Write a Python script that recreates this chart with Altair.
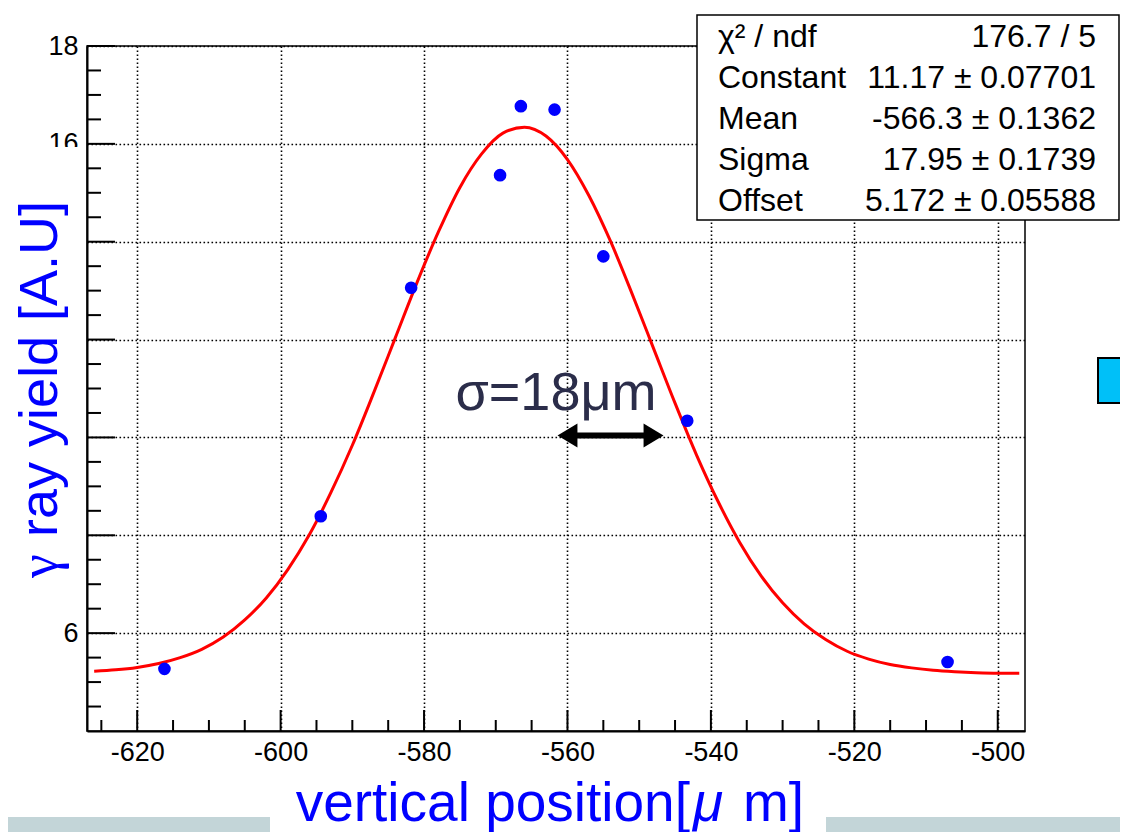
import altair as alt
import pandas as pd

# ---------------- data ----------------
# measured points
pos = [-616.2, -594.4, -581.8, -569.4, -566.5, -561.8, -555.0, -543.3, -507.0]
yld = [5.27, 8.39, 13.06, 15.36, 16.77, 16.70, 13.70, 10.34, 5.41]

# fitted curve (red line)
fit_x = [-626, -623, -620, -617, -614, -611, -608, -605, -602, -599, -596, -593,
         -590, -587, -584, -581, -578, -575, -572, -569, -566, -563, -560, -557,
         -554, -551, -548, -545, -542, -539, -536, -533, -530, -527, -524, -521,
         -518, -515, -512, -509, -506, -503, -500, -497]
fit_y = [5.22, 5.25, 5.30, 5.38, 5.50, 5.67, 5.92, 6.27, 6.72, 7.30, 8.01, 8.87,
         9.84, 10.92, 12.04, 13.16, 14.20, 15.11, 15.79, 16.22, 16.34, 16.16, 15.68, 14.94,
         14.01, 12.94, 11.82, 10.70, 9.64, 8.69, 7.86, 7.17, 6.62, 6.19, 5.87, 5.63,
         5.47, 5.36, 5.29, 5.24, 5.21, 5.19, 5.18, 5.18]

# axis ticks
x_major = [-620, -600, -580, -560, -540, -520, -500]
x_minor = [-625, -615, -610, -605, -595, -590, -585, -575, -570, -565, -555, -550,
           -545, -535, -530, -525, -515, -510, -505]
y_major = [6, 8, 10, 12, 14, 16, 18]
y_minor = [4.5, 5, 5.5, 6.5, 7, 7.5, 8.5, 9, 9.5, 10.5, 11, 11.5, 12.5, 13, 13.5,
           14.5, 15, 15.5, 16.5, 17, 17.5]

# statistics box
stat_names = ["χ² / ndf", "Constant", "Mean", "Sigma", "Offset"]
stat_values = ["176.7 / 5", "11.17 ± 0.07701", "-566.3 ± 0.1362", "17.95 ± 0.1739", "5.172 ± 0.05588"]

# annotation
note_text = ["σ=18μm"]
note_x = [-561.6]
note_y = [10.56]
arrow_left = [-560.0]
arrow_right = [-548.0]
arrow_y = [10.04]

x_title_parts = ["vertical position[", "μ", "m]"]
y_title_parts = ["γ", "ray yield [A.U]"]

# ---------------- layout ----------------
W, H = 938, 685
FONT = "Liberation Sans"
BLUE = "#0000ff"

xs = alt.Scale(domain=[-627, -496.2], nice=False, zero=False)
ys = alt.Scale(domain=[4, 18], nice=False, zero=False)

common_axis = dict(title=None, ticks=False, tickSize=0, domain=True, domainColor="black",
                   domainWidth=2, grid=True, gridColor="black", gridDash=[1.6, 2.4],
                   gridWidth=1.6, labelFont=FONT, labelFontSize=27, labelColor="black",
                   labelExpr="'' + datum.value")
x_axis = alt.Axis(values=x_major, labelPadding=8, **common_axis)
y_axis = alt.Axis(values=y_major, labelPadding=9, **common_axis)


def X(f="x:Q"):
    return alt.X(f, scale=xs, axis=x_axis)


def Y(f="y:Q"):
    return alt.Y(f, scale=ys, axis=y_axis)


one = pd.DataFrame({"k": [0]})

curve_df = pd.DataFrame({"x": fit_x, "y": fit_y})
pts_df = pd.DataFrame({"x": pos, "y": yld})

# slide decorations
band_l = alt.Chart(one).mark_rect(fill="#c3d5d8").encode(
    x=alt.value(-87), x2=alt.value(183), y=alt.value(771), y2=alt.value(800))
band_r = alt.Chart(one).mark_rect(fill="#c3d5d8").encode(
    x=alt.value(739), x2=alt.value(1041), y=alt.value(771), y2=alt.value(800))
cyan = alt.Chart(one).mark_rect(fill="#00c0f8", stroke="black", strokeWidth=2).encode(
    x=alt.value(1011), x2=alt.value(1050), y=alt.value(312), y2=alt.value(357))
cover = alt.Chart(one).mark_rect(fill="white").encode(
    x=alt.value(-87), x2=alt.value(-3), y=alt.value(101), y2=alt.value(572))

line = alt.Chart(curve_df).mark_line(color="#ff0000", strokeWidth=3, interpolate="monotone").encode(
    x=X(), y=Y())
points = alt.Chart(pts_df).mark_circle(color=BLUE, opacity=1, size=160).encode(x=X(), y=Y())

ymaj = alt.Chart(pd.DataFrame({"y": y_major})).mark_rule(color="black", strokeWidth=2).encode(
    y=Y(), x=alt.value(0), x2=alt.value(28))
ymin = alt.Chart(pd.DataFrame({"y": y_minor})).mark_rule(color="black", strokeWidth=2).encode(
    y=Y(), x=alt.value(0), x2=alt.value(14))
xmaj = alt.Chart(pd.DataFrame({"x": x_major})).mark_rule(color="black", strokeWidth=2).encode(
    x=X(), y=alt.value(H), y2=alt.value(H - 21))
xmin = alt.Chart(pd.DataFrame({"x": x_minor})).mark_rule(color="black", strokeWidth=2).encode(
    x=X(), y=alt.value(H), y2=alt.value(H - 11))

# stats box
box = alt.Chart(one).mark_rect(fill="white", stroke="black", strokeWidth=1.5).encode(
    x=alt.value(610), x2=alt.value(1032), y=alt.value(-31), y2=alt.value(174))
stat_layers = []
for i, (n, v) in enumerate(zip(stat_names, stat_values)):
    df = pd.DataFrame({"n": [n], "v": [v]})
    base_y = 1 + 41 * i
    stat_layers.append(alt.Chart(df).mark_text(align="left", baseline="alphabetic", font=FONT,
                                               fontSize=32, color="black").encode(
        x=alt.value(631), y=alt.value(base_y), text="n:N"))
    stat_layers.append(alt.Chart(df).mark_text(align="right", baseline="alphabetic", font=FONT,
                                               fontSize=32, color="black").encode(
        x=alt.value(1009), y=alt.value(base_y), text="v:N"))

# annotation
note = alt.Chart(pd.DataFrame({"x": note_x, "y": note_y, "t": note_text})).mark_text(
    align="center", baseline="alphabetic", font=FONT, fontSize=54, color="#2b2d4a").encode(
    x=X(), y=Y(), text="t:N")
arrow_df = pd.DataFrame({"x": arrow_left, "x2": arrow_right, "y": arrow_y})
shaft = alt.Chart(arrow_df).mark_rule(color="black", strokeWidth=6).encode(
    x=X(), x2=alt.X2("x2:Q"), y=Y())
head_l = alt.Chart(pd.DataFrame({"x": arrow_left, "y": arrow_y})).mark_point(
    shape="M0.83,-1L-0.83,0L0.83,1Z", filled=True, size=576, color="black", opacity=1).encode(
    x=X(), y=Y())
head_r = alt.Chart(pd.DataFrame({"x": arrow_right, "y": arrow_y})).mark_point(
    shape="M-0.83,-1L0.83,0L-0.83,1Z", filled=True, size=576, color="black", opacity=1).encode(
    x=X(), y=Y())

# axis titles
yt1 = alt.Chart(pd.DataFrame({"t": [y_title_parts[0]]})).mark_text(
    align="left", baseline="alphabetic", angle=270, font="Liberation Serif", fontSize=54,
    color=BLUE).encode(x=alt.value(-30), y=alt.value(532), text="t:N")
yt2 = alt.Chart(pd.DataFrame({"t": [y_title_parts[1]]})).mark_text(
    align="left", baseline="alphabetic", angle=270, font=FONT, fontSize=54, color=BLUE).encode(
    x=alt.value(-30), y=alt.value(491), text="t:N")
xt1 = alt.Chart(pd.DataFrame({"t": [x_title_parts[0]]})).mark_text(
    align="right", baseline="alphabetic", font=FONT, fontSize=55, color=BLUE).encode(
    x=alt.value(603), y=alt.value(775), text="t:N")
xt2 = alt.Chart(pd.DataFrame({"t": [x_title_parts[1]]})).mark_text(
    align="left", baseline="alphabetic", font=FONT, fontSize=55, fontStyle="italic", color=BLUE).encode(
    x=alt.value(606), y=alt.value(775), text="t:N")
xt3 = alt.Chart(pd.DataFrame({"t": [x_title_parts[2]]})).mark_text(
    align="left", baseline="alphabetic", font=FONT, fontSize=55, color=BLUE).encode(
    x=alt.value(656), y=alt.value(775), text="t:N")

chart = alt.layer(
    band_l, band_r, cyan, cover, line, points, ymaj, ymin, xmaj, xmin,
    box, *stat_layers, note, shaft, head_l, head_r, yt1, yt2, xt1, xt2, xt3
).properties(
    width=W, height=H,
    autosize=alt.AutoSizeParams(type="none"),
    padding={"left": 79, "top": 38, "right": 95, "bottom": 101},
    background="white",
).configure_view(stroke="black", strokeWidth=1.5)

chart.save("out.html", embed_options={"renderer": "svg", "actions": False})
